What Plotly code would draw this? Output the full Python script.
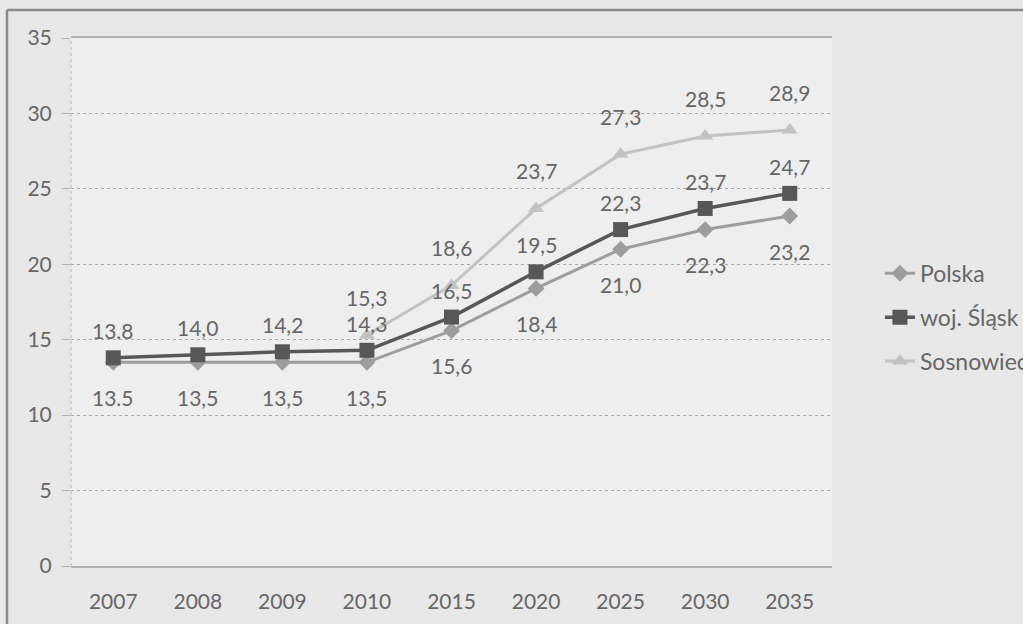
import plotly.graph_objects as go

# Years on the horizontal axis
years = ["2007", "2008", "2009", "2010", "2015", "2020", "2025", "2030", "2035"]

# Series values (None = no data for that year)
polska = [13.5, 13.5, 13.5, 13.5, 15.6, 18.4, 21.0, 22.3, 23.2]
slask = [13.8, 14.0, 14.2, 14.3, 16.5, 19.5, 22.3, 23.7, 24.7]
sosnowiec = [None, None, None, 15.3, 18.6, 23.7, 27.3, 28.5, 28.9]

series_names = ["Polska", "woj. Śląsk", "Sosnowiec"]

y_ticks = [0, 5, 10, 15, 20, 25, 30, 35]

FONT = "Lato"
FSIZE = 21
TEXT_COLOR = "#666666"

# evenly spaced slots, one per year
pos = list(range(len(years)))


def fmt(v, year):
    s = f"{v:.1f}"
    # first year labels keep a dot separator, the rest use a comma
    return s if year == "2007" else s.replace(".", ",")


styles = [
    dict(color="#9d9d9d", symbol="diamond", size=13, width=3, shift=-35),
    dict(color="#575757", symbol="square", size=15, width=3.5, shift=27),
    dict(color="#c2c2c2", symbol="triangle-up", size=14, width=3, shift=38),
]

fig = go.Figure()
annotations = []
for i, (name, vals, st) in enumerate(zip(series_names, [polska, slask, sosnowiec], styles)):
    fig.add_trace(go.Scatter(
        x=pos, y=vals, name=name, mode="lines+markers",
        legendgroup=f"g{i}",
        line=dict(color=st["color"], width=st["width"]),
        marker=dict(symbol=st["symbol"], size=st["size"], color=st["color"]),
        connectgaps=False,
        hoverinfo="skip",
    ))
    for p, yr, v in zip(pos, years, vals):
        if v is None:
            continue
        annotations.append(dict(
            x=p, y=v, xref="x", yref="y", text=fmt(v, yr), showarrow=False,
            yshift=st["shift"], font=dict(family=FONT, size=FSIZE, color=TEXT_COLOR),
        ))

# Outer frame edges (left and top)
shapes = [
    dict(type="line", xref="paper", yref="paper", x0=-64 / 761, x1=-64 / 761,
         y0=-1.2, y1=556 / 528, line=dict(color="#8a8a8a", width=2.5)),
    dict(type="line", xref="paper", yref="paper", x0=-64 / 761, x1=1.4,
         y0=556 / 528, y1=556 / 528, line=dict(color="#8a8a8a", width=2.5)),
    # dotted vertical value axis
    dict(type="line", xref="paper", yref="paper", x0=0, x1=0, y0=0, y1=1,
         line=dict(color="#b5b5b5", width=1, dash="dot")),
]

fig.update_layout(
    width=1023, height=624,
    margin=dict(l=71, r=191, t=38, b=58, autoexpand=False),
    paper_bgcolor="#e8e8e8",
    plot_bgcolor="#eeeeee",
    font=dict(family=FONT, size=FSIZE, color=TEXT_COLOR),
    showlegend=True,
    legend=dict(
        x=1.063, y=0.595, xanchor="left", yanchor="top",
        bgcolor="rgba(0,0,0,0)", font=dict(family=FONT, size=23, color=TEXT_COLOR),
        tracegroupgap=11, traceorder="grouped",
    ),
    annotations=annotations,
    shapes=shapes,
)

fig.update_xaxes(
    range=[-0.5, len(years) - 0.5], tickvals=pos, ticktext=years,
    showgrid=False, zeroline=False, showline=True, mirror=True,
    linecolor="#b0b0b0", linewidth=2,
    ticks="", ticklabelstandoff=16, tickfont=dict(family=FONT, size=FSIZE, color=TEXT_COLOR),
    fixedrange=True,
)
fig.update_yaxes(
    range=[0, 35], tickvals=y_ticks, showgrid=True, gridcolor="#a8a8a8",
    griddash="dot", gridwidth=1, zeroline=False, showline=False,
    ticks="outside", ticklen=8, tickcolor="#b0b0b0", ticklabelstandoff=6,
    tickfont=dict(family=FONT, size=FSIZE, color=TEXT_COLOR), fixedrange=True,
)

fig.write_html("out.html")
